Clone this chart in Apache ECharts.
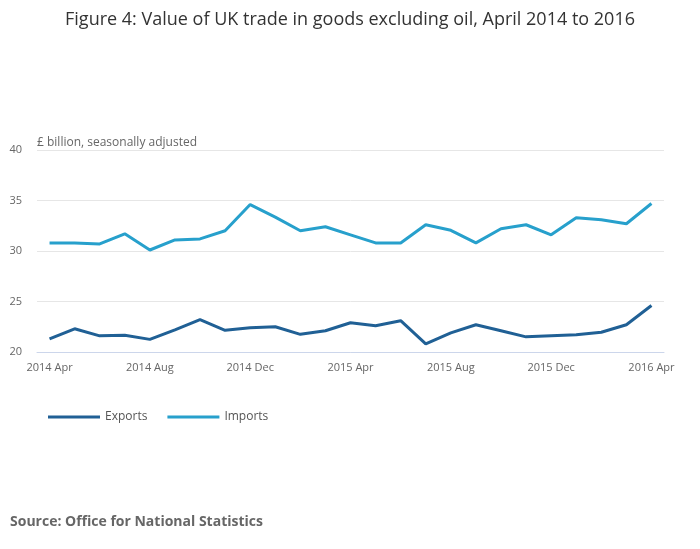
<!DOCTYPE html>
<html><head><meta charset="utf-8">
<script src="https://cdn.jsdelivr.net/npm/echarts@6/dist/echarts.min.js"></script>
<style>html,body{margin:0;padding:0;background:#fff}#c{width:700px;height:549px}</style>
</head><body><div id="c"></div>
<script>
const months = ['2014 Apr','2014 May','2014 Jun','2014 Jul','2014 Aug','2014 Sep','2014 Oct','2014 Nov','2014 Dec',
  '2015 Jan','2015 Feb','2015 Mar','2015 Apr','2015 May','2015 Jun','2015 Jul','2015 Aug','2015 Sep','2015 Oct','2015 Nov','2015 Dec',
  '2016 Jan','2016 Feb','2016 Mar','2016 Apr'];
const exportsData = [21.3,22.3,21.6,21.65,21.25,22.2,23.2,22.15,22.4,22.5,21.75,22.1,22.9,22.6,23.1,20.8,21.9,22.7,22.1,21.5,21.6,21.7,21.95,22.7,24.6];
const importsData = [30.8,30.8,30.7,31.7,30.1,31.1,31.2,32.0,34.6,33.35,32.0,32.4,31.6,30.8,30.8,32.6,32.05,30.8,32.2,32.6,31.6,33.3,33.1,32.7,34.7];
const yTicks = [20,25,30,35,40];

const font = '"Open Sans", sans-serif';
const chart = echarts.init(document.getElementById('c'));
chart.setOption({
  backgroundColor: '#fff',
  animation: false,
  textStyle: {fontFamily: font},
  title: {
    text: 'Figure 4: Value of UK trade in goods excluding oil, April 2014 to 2016',
    left: 'center', top: 6,
    textStyle: {fontFamily: font, fontSize: 18, fontWeight: 'normal', color: '#333'}
  },
  graphic: [
    {type: 'text', left: 37, top: 137, style: {text: '£ billion, seasonally adjusted', font: '12px "Open Sans", sans-serif', fill: '#666'}},
    {type: 'text', left: 10, top: 515, style: {text: 'Source: Office for National Statistics', font: 'bold 14px "Open Sans", sans-serif', fill: '#666'}}
  ],
  legend: {
    left: 43, top: 406,
    itemWidth: 52, itemHeight: 3, itemGap: 20,
    icon: 'rect',
    textStyle: {fontFamily: font, fontSize: 12, color: '#555'},
    data: ['Exports','Imports']
  },
  grid: {left: 37, right: 36, top: 150, bottom: 197, containLabel: false},
  xAxis: {
    type: 'category',
    data: months,
    boundaryGap: true,
    axisLine: {lineStyle: {color: '#ccd6eb'}},
    axisTick: {alignWithLabel: true, interval: 3, length: 9, lineStyle: {color: '#ccd6eb'}},
    axisLabel: {interval: 3, color: '#666', fontSize: 11, fontFamily: font, margin: 10},
    splitLine: {show: false}
  },
  yAxis: {
    type: 'value',
    min: yTicks[0], max: yTicks[yTicks.length-1], interval: 5,
    axisLine: {show: false}, axisTick: {show: false},
    axisLabel: {color: '#666', fontSize: 11, fontFamily: font, margin: 15},
    splitLine: {lineStyle: {color: '#e6e6e6'}}
  },
  series: [
    {name: 'Exports', type: 'line', data: exportsData, symbol: 'none', color: '#206095', lineStyle: {width: 3}},
    {name: 'Imports', type: 'line', data: importsData, symbol: 'none', color: '#27a0cc', lineStyle: {width: 3}}
  ]
});
</script></body></html>
